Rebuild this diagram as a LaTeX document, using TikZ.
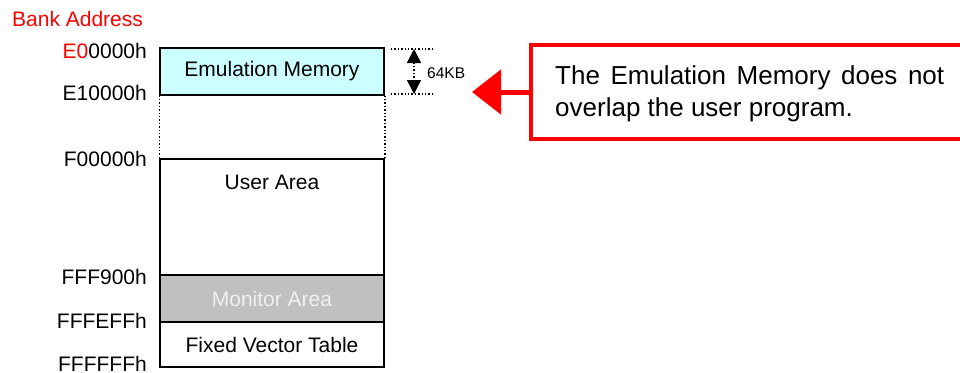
\documentclass[tikz,border=0pt]{standalone}
\usepackage{fontspec}
\setmainfont{Liberation Sans}
\usetikzlibrary{arrows.meta}
\definecolor{emufill}{HTML}{CCFFFF}
\definecolor{monfill}{HTML}{C0C0C0}
\definecolor{montext}{HTML}{F0F0F0}
\definecolor{callred}{HTML}{FF0000}
\begin{document}
\begin{tikzpicture}[x=1pt,y=-1pt,
  mem/.style={draw=black,line width=1.6pt,minimum width=224pt,inner sep=0pt,
              font=\fontsize{21}{25}\selectfont},
  memtext/.style={anchor=base,inner sep=0pt,font=\fontsize{21}{25}\selectfont},
  addr/.style={anchor=base east,inner sep=0pt,font=\fontsize{21}{25}\selectfont},
  dotline/.style={dotted,line width=1.4pt},
  dimarrow/.style={dotted,line width=1.4pt,
     {Triangle[length=14pt,width=14pt,sep=0pt]}-{Triangle[length=14pt,width=14pt]}},
  callout/.style={draw=callred,line width=4pt,minimum width=444pt,minimum height=94pt,inner sep=0pt},
  bigarrow/.style={draw=callred,line width=5pt,-{Triangle[length=29pt,width=44pt]}}
]
\useasboundingbox (0,0) rectangle (960,372);

% title
\node[anchor=base west,inner sep=0pt,text=callred,font=\fontsize{21}{25}\selectfont]
  (title) at (12,27) {Bank Address};

% memory blocks
\node[mem,fill=emufill,minimum height=46.5pt] (emu) at (272,71.5) {Emulation Memory};
\node[mem,minimum height=116pt] (user) at (272,217) {};
\node[memtext] (usertxt) at (272,189) {User Area};
\node[mem,fill=monfill,minimum height=46.5pt,text=montext] (mon) at (272,298.5) {Monitor Area};
\node[mem,minimum height=45.5pt] (vec) at (272,344.5) {Fixed Vector Table};

% dotted gap edges
\draw[dotline] (emu.south west) -- (user.north west);
\draw[dotline] (emu.south east) -- (user.north east);

% address labels
\node[addr] (a1) at (147,58) {\textcolor{callred}{E0}0000h};
\node[addr] (a2) at (147,100) {E10000h};
\node[addr] (a3) at (147,166) {F00000h};
\node[addr] (a4) at (147,284) {FFF900h};
\node[addr] (a5) at (147,328) {FFFEFFh};
\node[addr] (a6) at (147,371) {FFFFFFh};

% 64KB dimension
\coordinate (t1) at (391,49);
\coordinate (t2) at (432,49);
\coordinate (b1) at (391,94);
\coordinate (b2) at (432,94);
\coordinate (dt) at (414,49);
\coordinate (db) at (414,94);
\draw[dotline] (t1) -- (t2);
\draw[dotline] (b1) -- (b2);
\draw[dimarrow] (dt) -- (db);
\node[anchor=west,inner sep=0pt,font=\fontsize{15.5}{18}\selectfont] (kb) at (427,73) {64KB};

% callout
\node[callout] (note) at (753,92) {};
\node[anchor=north west,inner sep=0pt,text width=389pt,align=justify,
      font=\fontsize{26}{32}\selectfont] (notetxt) at (555,65)
  {The Emulation Memory does not overlap the user program.};
\coordinate (tip) at (472,92);
\draw[bigarrow] (note.west) -- (tip);
\end{tikzpicture}
\end{document}
